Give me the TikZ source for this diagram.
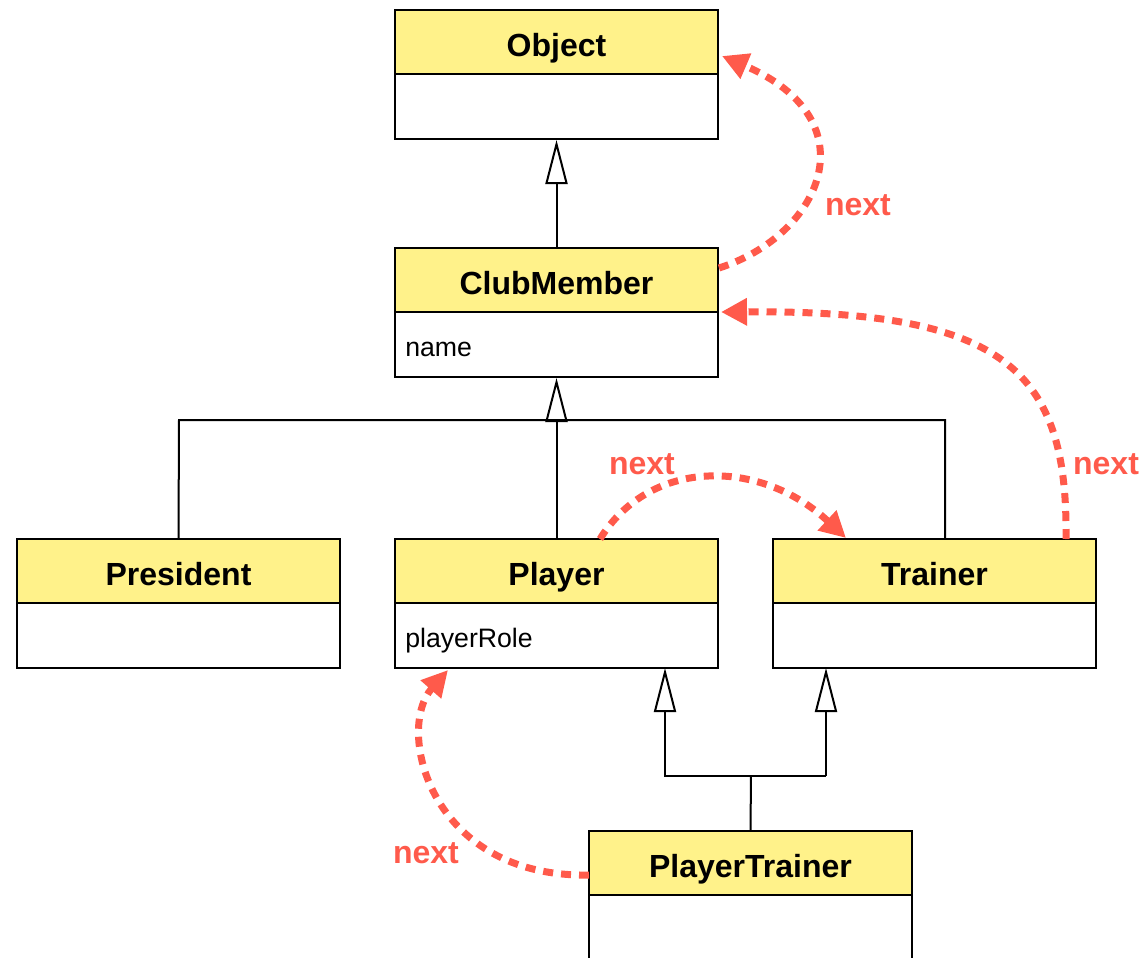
\documentclass[tikz,border=0pt]{standalone}
\usepackage{fontspec}
\setmainfont{Liberation Sans}
\usetikzlibrary{arrows.meta}
\definecolor{umlyellow}{RGB}{255,242,138}
\definecolor{nextred}{RGB}{255,90,75}
\tikzset{
  hdr/.style={draw, fill=umlyellow, line width=1.5pt, minimum width=242.25pt, minimum height=48pt, inner sep=0pt, text height=21.6pt, text depth=0pt, font=\fontsize{24}{28}\selectfont\bfseries},
  bodybox/.style={draw, fill=white, line width=1.5pt, minimum width=242.25pt, minimum height=48.75pt, inner sep=0pt},
  attr/.style={anchor=west, inner sep=0pt, font=\fontsize{20}{24}\selectfont},
  inh/.style={line width=1.5pt, -{Triangle[open, length=33pt, width=16.5pt, fill=white]}},
  plain/.style={line width=1.5pt},
  nextarrow/.style={nextred, line width=5.25pt, dash pattern=on 7.5pt off 6pt, -{Triangle[length=19.5pt, width=19.5pt]}},
  nextlbl/.style={text=nextred, font=\fontsize{24}{28}\selectfont\bfseries, inner sep=0pt}
}
\begin{document}
\begin{tikzpicture}[x=0.75pt, y=-0.75pt]
\useasboundingbox (0,0) rectangle (1146,957);
% Object
\node[hdr] (objH) at (556.5,42) {Object};
\node[bodybox] (objB) at (556.5,106.5) {};
% ClubMember
\node[hdr] (cmH) at (556.5,280) {ClubMember};
\node[bodybox] (cmB) at (556.5,344.5) {};
\node[attr] (cmA) at (405,349.5) {name};
% President
\node[hdr] (prH) at (178.5,571) {President};
\node[bodybox] (prB) at (178.5,635.5) {};
% Player
\node[hdr] (plH) at (556.5,571) {Player};
\node[bodybox] (plB) at (556.5,635.5) {};
\node[attr] (plA) at (405,640.5) {playerRole};
% Trainer
\node[hdr] (trH) at (934.5,571) {Trainer};
\node[bodybox] (trB) at (934.5,635.5) {};
% PlayerTrainer
\node[hdr] (ptH) at (750.5,863) {PlayerTrainer};
\node[bodybox, minimum height=51pt] (ptB) at (750.5,929) {};
% inheritance
\draw[inh] (cmH.north) -- (objB.south);
\coordinate (cmJ) at (556.5,420);
\coordinate (jL) at (179,420);
\coordinate (jR) at (945,420);
\coordinate (trTop) at (945,539);
\draw[inh] (cmJ) -- (cmB.south);
\draw[plain] (prH.north) -- (jL) -- (jR) -- (trTop);
\draw[plain] (plH.north) -- (cmJ);
\coordinate (ptJ) at (751,776);
\coordinate (ptJL) at (665,776);
\coordinate (ptJR) at (826,776);
\coordinate (plBot) at (665,668);
\coordinate (trBot) at (826,668);
\draw[plain] (ptH.north) -- (ptJ);
\draw[inh] (ptJR) -- (ptJL) -- (plBot);
\draw[inh] (ptJR) -- (trBot);
% next arrows
\coordinate (a1s) at (719,268);
\coordinate (a1e) at (722,56);
\draw[nextarrow] (a1s) .. controls (822,235) and (872,120) .. (a1e);
\node[nextlbl] (l1) at (858,205) {next};
\coordinate (a2s) at (1066,539);
\coordinate (a2e) at (721,312);
\draw[nextarrow] (a2s) .. controls (1068,370) and (1005,310) .. (a2e);
\node[nextlbl] (l2) at (1106,464) {next};
\coordinate (a3s) at (600,539);
\coordinate (a3e) at (846,538);
\draw[nextarrow] (a3s) .. controls (650,458) and (760,458) .. (a3e);
\node[nextlbl] (l3) at (642,464) {next};
\coordinate (a4s) at (589,875);
\coordinate (a4e) at (448,670);
\draw[nextarrow] (a4s) .. controls (430,878) and (395,730) .. (a4e);
\node[nextlbl] (l4) at (426,853) {next};
\end{tikzpicture}
\end{document}
